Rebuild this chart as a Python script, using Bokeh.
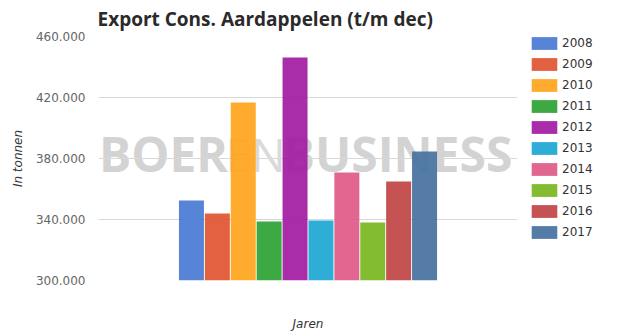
from bokeh.plotting import figure
from bokeh.layouts import row
from bokeh.models import (ColumnDataSource, Range1d, FixedTicker, CustomJSTickFormatter,
                          Label, Legend, LegendItem, Title)
from bokeh.embed import file_html
from bokeh.resources import INLINE

# ---- data ----
years = ["2008", "2009", "2010", "2011", "2012", "2013", "2014", "2015", "2016", "2017"]
export_tonnen = [352500, 344000, 416700, 338700, 446200, 339400, 370800, 338000, 365000, 384600]
bar_colors = ["#4a79d4", "#e05430", "#ffa41c", "#2da232", "#a21ba2",
              "#1ca6d2", "#e05a87", "#78b61e", "#c04444", "#46719f"]
y_ticks = [300000, 340000, 380000, 420000, 460000]

title_text = "Export Cons. Aardappelen (t/m dec)"
y_title = "In tonnen"
x_title = "Jaren"

W, H = 617, 334
LEG_W = 100
MAIN_W = W - LEG_W
L, T, B = 98, 36, 54
frame_w = MAIN_W - L

n = len(years)
xpos = [i - (n - 1) / 2 for i in range(n)]
px_per_unit = 25.9
half = frame_w / px_per_unit / 2

src = ColumnDataSource(dict(x=xpos, top=export_tonnen, year=years, color=bar_colors))

p = figure(width=MAIN_W, height=H, output_backend="svg", toolbar_location=None,
           x_range=Range1d(-half, half), y_range=Range1d(y_ticks[0], y_ticks[-1]),
           min_border_left=L, min_border_right=0, min_border_top=T, min_border_bottom=B)
p.outline_line_color = None
p.background_fill_color = "white"
p.border_fill_color = "white"

# watermark (behind grid and bars)
wm_color = "#d3d3d3"
for txt, cx, style, size, col in [("BOER", 163, "bold", "48px", wm_color),
                                  ("EN", 255, "normal", "46px", "#dadada"),
                                  ("BUSINESS", 397, "bold", "48px", wm_color)]:
    p.add_layout(Label(x=cx - L, y=H - B - 153, x_units="screen", y_units="screen",
                       text=txt, text_font="Open Sans", text_font_style=style,
                       text_font_size=size, text_color=col, text_align="center",
                       text_baseline="middle", level="image"))

r = p.vbar(x="x", top="top", bottom=y_ticks[0], width=0.965, source=src,
           fill_color="color", line_color=None, fill_alpha=0.92)

# x axis: only its title
xa = p.xaxis[0]
xa.ticker = FixedTicker(ticks=[])
xa.axis_line_color = None
xa.major_tick_line_color = None
xa.minor_tick_line_color = None
xa.major_tick_out = 0
xa.major_label_standoff = 0
xa.axis_label = x_title
xa.axis_label_text_font = "DejaVu Sans"
xa.axis_label_text_font_style = "italic"
xa.axis_label_text_font_size = "12px"
xa.axis_label_text_color = "#333333"
xa.axis_label_standoff = 36

p.xgrid.visible = False
p.ygrid.grid_line_color = "#d8d8d8"
p.ygrid.grid_line_width = 1
p.ygrid.ticker = FixedTicker(ticks=y_ticks)

ya = p.yaxis[0]
ya.ticker = FixedTicker(ticks=y_ticks)
ya.formatter = CustomJSTickFormatter(
    code="return Math.round(tick).toString().replace(/\\B(?=(\\d{3})+(?!\\d))/g, '.');")
ya.axis_line_color = None
ya.major_tick_line_color = None
ya.minor_tick_line_color = None
ya.major_tick_out = 0
ya.major_tick_in = 0
ya.major_label_standoff = 13
ya.major_label_text_font = "DejaVu Sans"
ya.major_label_text_font_size = "12px"
ya.major_label_text_color = "#666666"
ya.axis_label = y_title
ya.axis_label_text_font = "DejaVu Sans"
ya.axis_label_text_font_style = "italic"
ya.axis_label_text_font_size = "12px"
ya.axis_label_text_color = "#333333"
ya.axis_label_standoff = 8

# title
p.add_layout(Title(text=title_text, align="left", offset=-1, standoff=7,
                   vertical_align="middle",
                   text_font="Open Sans", text_font_style="bold",
                   text_font_size="19px", text_color="#2a2a2a"), "above")

# legend panel: a small figure on the right holding the legend
lf = figure(width=LEG_W, height=H, output_backend="svg", toolbar_location=None,
            x_range=Range1d(0, 1), y_range=Range1d(0, 1),
            x_axis_location=None, y_axis_location=None,
            min_border_left=0, min_border_right=0, min_border_top=T, min_border_bottom=B)
lf.outline_line_color = None
lf.xgrid.visible = False
lf.ygrid.visible = False
lf.border_fill_color = "white"
lf.background_fill_color = "white"
# same bars, placed far outside this panel's view so only their legend swatches show
lr = lf.vbar(x=[v + 1000 for v in xpos], top=export_tonnen, bottom=y_ticks[0], width=0.965,
             fill_color=bar_colors, line_color=None, fill_alpha=0.92)

items = [LegendItem(label=yr, renderers=[lr], index=i) for i, yr in enumerate(years)]
legend = Legend(items=items, location=(11, 40), glyph_width=32, glyph_height=16,
                label_height=13, label_standoff=2, spacing=5, padding=0, margin=0,
                label_text_font="DejaVu Sans", label_text_font_size="12px",
                label_text_color="#333333", border_line_alpha=0,
                background_fill_alpha=0)
lf.add_layout(legend, "center")

layout = row(p, lf, spacing=0)
open("out.html", "w").write(file_html(layout, INLINE))
